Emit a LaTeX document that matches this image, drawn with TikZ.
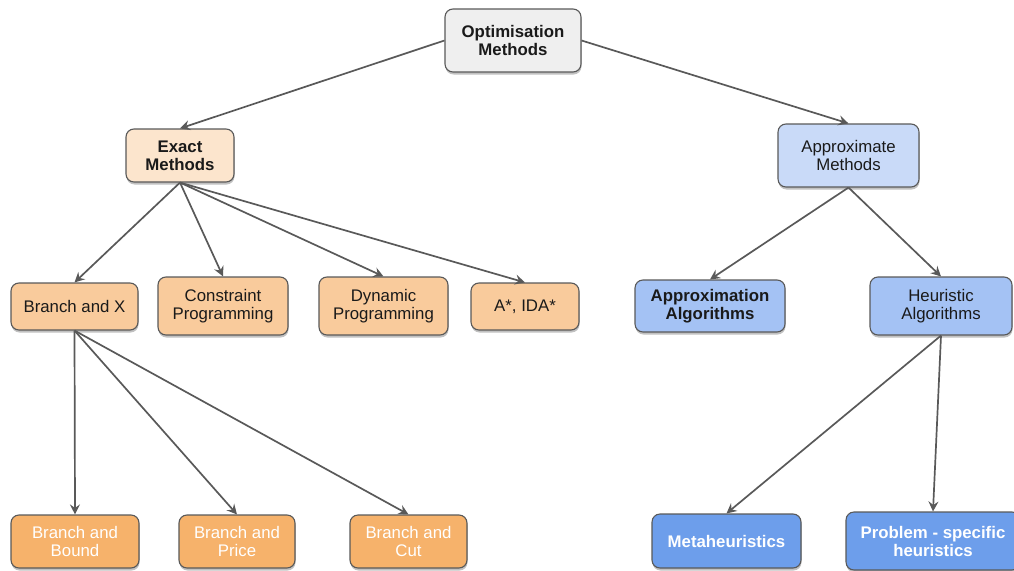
\documentclass[tikz,border=0pt]{standalone}
\usepackage{fontspec}
\setmainfont{Liberation Sans}
\usetikzlibrary{arrows.meta,shadows}

\definecolor{rootfill}{HTML}{EFEFEF}
\definecolor{exactfill}{HTML}{FCE5CD}
\definecolor{approxfill}{HTML}{C9DAF8}
\definecolor{orangemid}{HTML}{F9CB9C}
\definecolor{bluemid}{HTML}{A4C2F4}
\definecolor{orangedeep}{HTML}{F6B26B}
\definecolor{bluedeep}{HTML}{6D9EEB}
\definecolor{linegray}{HTML}{595959}
\definecolor{inkdark}{HTML}{1A1A1A}

\tikzset{
  box/.style={draw=linegray, line width=1.1pt, rounded corners=8pt, align=center,
    inner sep=0pt, text=inkdark, font=\fontsize{16.8}{18}\selectfont,
    drop shadow={shadow xshift=0.5pt, shadow yshift=-2.5pt, opacity=0.35, fill=black!70}},
  boldbox/.style={box, font=\fontsize{16.8}{18}\selectfont\bfseries},
  whitebox/.style={box, text=white},
  link/.style={draw=linegray, line width=1.7pt,
    -{Stealth[length=10pt, width=10pt, inset=3.5pt]}},
}

\begin{document}
\begin{tikzpicture}[x=1pt, y=-1pt]
\useasboundingbox (0,0) rectangle (1014,570);

% root
\node[boldbox, fill=rootfill, minimum width=136pt, minimum height=63pt] (opt) at (513,40.5) {Optimisation\\Methods};

% first level
\node[boldbox, fill=exactfill, minimum width=108pt, minimum height=53pt] (exact) at (180,155.5) {Exact\\Methods};
\node[box, fill=approxfill, minimum width=141pt, minimum height=63pt] (approx) at (848.5,155.5) {Approximate\\Methods};

% exact methods
\node[box, fill=orangemid, minimum width=127pt, minimum height=47pt] (bx) at (74.5,306.5) {Branch and X};
\node[box, fill=orangemid, minimum width=130pt, minimum height=58pt] (cp) at (223,306) {Constraint\\Programming};
\node[box, fill=orangemid, minimum width=129pt, minimum height=58pt] (dp) at (383.5,306) {Dynamic\\Programming};
\node[box, fill=orangemid, minimum width=108pt, minimum height=47pt] (astar) at (525,306.5) {A*, IDA*};

% approximate methods
\node[boldbox, fill=bluemid, minimum width=150pt, minimum height=52pt] (aa) at (710,306) {Approximation\\Algorithms};
\node[box, fill=bluemid, minimum width=142pt, minimum height=58pt] (ha) at (941,306) {Heuristic\\Algorithms};

% branch and X variants
\node[whitebox, fill=orangedeep, minimum width=128pt, minimum height=53pt] (bb) at (75,541.5) {Branch and\\Bound};
\node[whitebox, fill=orangedeep, minimum width=116pt, minimum height=53pt] (bp) at (237,541.5) {Branch and\\Price};
\node[whitebox, fill=orangedeep, minimum width=117pt, minimum height=53pt] (bc) at (408.5,541.5) {Branch and\\Cut};

% heuristics
\node[whitebox, fill=bluedeep, font=\fontsize{16.8}{18}\selectfont\bfseries, minimum width=149pt, minimum height=54pt] (meta) at (726.5,541) {Metaheuristics};
\node[whitebox, fill=bluedeep, font=\fontsize{16.8}{18}\selectfont\bfseries, minimum width=174pt, minimum height=58pt] (ps) at (933,541) {Problem - specific\\heuristics};

% connectors
\draw[link] (opt.west) -- (exact.north);
\draw[link] (opt.east) -- (approx.north);

\draw[link] (exact.south) -- (bx.north);
\draw[link] (exact.south) -- (cp.north);
\draw[link] (exact.south) -- (dp.north);
\draw[link] (exact.south) -- (astar.north);

\draw[link] (approx.south) -- (aa.north);
\draw[link] (approx.south) -- (ha.north);

\draw[link] (bx.south) -- (bb.north);
\draw[link] (bx.south) -- (bp.north);
\draw[link] (bx.south) -- (bc.north);

\draw[link] (ha.south) -- (meta.north);
\draw[link] (ha.south) -- (ps.north);
\end{tikzpicture}
\end{document}
